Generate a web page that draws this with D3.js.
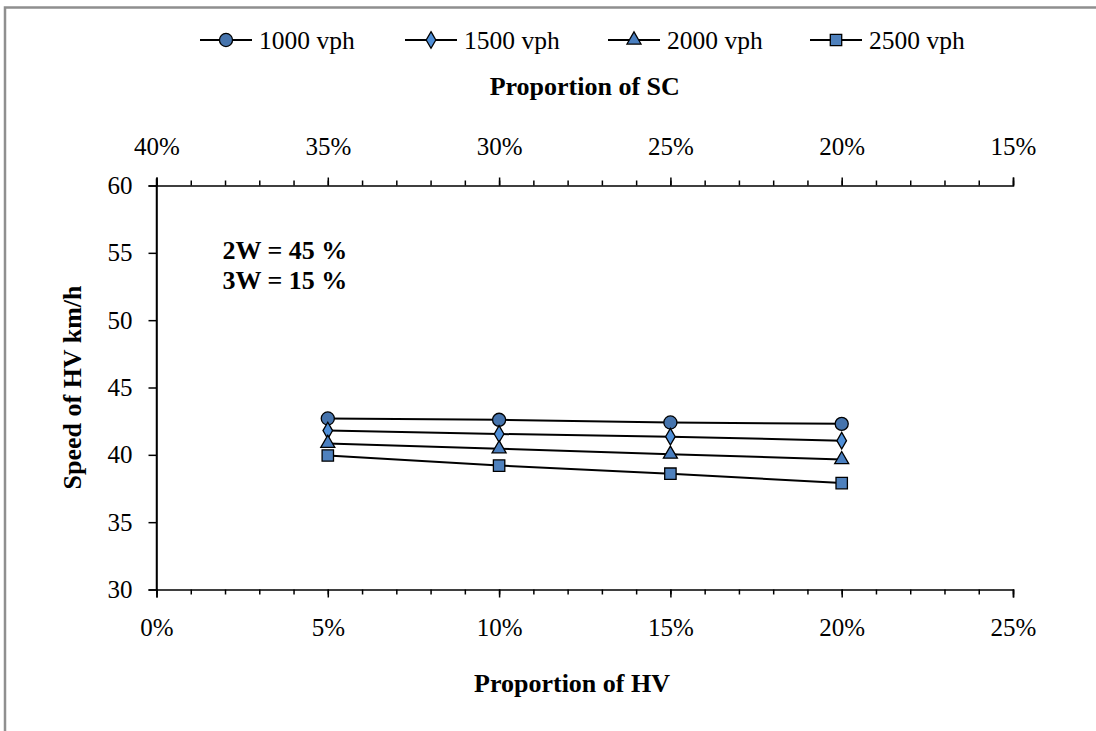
<!DOCTYPE html>
<html>
<head>
<meta charset="utf-8">
<script src="https://cdn.jsdelivr.net/npm/d3@7"></script>
<style>
  body { margin: 0; background: #fff; }
  svg text { font-family: "Liberation Serif", "Times New Roman", serif; fill: #000; }
  .axis-title { font-size: 26px; font-weight: bold; }
</style>
</head>
<body>
<div id="chart"></div>
<script>
// data
var hvShare = [0.05, 0.10, 0.15, 0.20];
var seriesNames = ["1000 vph", "1500 vph", "2000 vph", "2500 vph"];
var speed1000 = [42.7, 42.6, 42.4, 42.3];
var speed1500 = [41.8, 41.55, 41.35, 41.05];
var speed2000 = [40.85, 40.45, 40.05, 39.65];
var speed2500 = [39.95, 39.2, 38.6, 37.9];
var hvTicks = [0, 0.05, 0.10, 0.15, 0.20, 0.25];
var scTicks = [0.40, 0.35, 0.30, 0.25, 0.20, 0.15];
var speedTicks = [30, 35, 40, 45, 50, 55, 60];
var noteLines = ["2W = 45 %", "3W = 15 %"];

var allSpeeds = [speed1000, speed1500, speed2000, speed2500];
var markers = [d3.symbolCircle, d3.symbolDiamond, d3.symbolTriangle, d3.symbolSquare];
var markerSize = [135, 80, 85, 130];
var markerFill = ["#4674ad", "#4f8fd8", "#4a7fc0", "#4f81bd"];

var W = 1096, H = 731;
var margin = {top: 185.5, right: 83, bottom: 141.5, left: 156.5};
var width = W - margin.left - margin.right,
    height = H - margin.top - margin.bottom;

var svg = d3.select("#chart").append("svg")
  .attr("width", W)
  .attr("height", H);

// outer frame
svg.append("rect")
  .attr("x", 5).attr("y", 7.5)
  .attr("width", W + 20).attr("height", H + 20)
  .attr("fill", "none")
  .attr("stroke", "#8f8f8f")
  .attr("stroke-width", 2.5);

var g = svg.append("g")
  .attr("transform", "translate(" + margin.left + "," + margin.top + ")");

var x = d3.scaleLinear().domain([0, 0.25]).range([0, width]);
var x2 = d3.scaleLinear().domain([0.40, 0.15]).range([0, width]);
var y = d3.scaleLinear().domain([30, 60]).range([height, 0]);

var pct = d3.format(".0%");
var minorHV = d3.range(0, 0.2501, 0.01);
var minorSC = d3.range(0.15, 0.4001, 0.01);

// minor ticks, bottom and top
g.append("g")
  .attr("transform", "translate(0," + height + ")")
  .call(d3.axisBottom(x).tickValues(minorHV).tickSize(5).tickFormat(""))
  .call(function(s) { s.select(".domain").remove(); });
g.append("g")
  .call(d3.axisTop(x2).tickValues(minorSC).tickSize(5).tickFormat(""))
  .call(function(s) { s.select(".domain").remove(); });

// bottom axis
g.append("g")
  .attr("class", "axis")
  .attr("transform", "translate(0," + height + ")")
  .call(d3.axisBottom(x).tickValues(hvTicks).tickSize(8).tickPadding(21).tickFormat(pct));

// top axis
g.append("g")
  .attr("class", "axis")
  .call(d3.axisTop(x2).tickValues(scTicks).tickSize(8).tickPadding(23).tickFormat(pct));

// y axis
g.append("g")
  .attr("class", "axis")
  .call(d3.axisLeft(y).tickValues(speedTicks).tickSize(8).tickPadding(16));

g.selectAll(".axis")
  .attr("font-family", "Liberation Serif")
  .attr("font-size", 25);
g.selectAll(".domain").attr("stroke", "#000").attr("stroke-width", 1.5);
g.selectAll(".tick line").attr("stroke", "#000").attr("stroke-width", 1.5);
g.selectAll(".tick text")
  .style("font-family", "Liberation Serif")
  .style("font-size", "25px")
  .attr("fill", "#000");

// y axis line a bit past the top axis
g.append("line")
  .attr("x1", 0).attr("x2", 0)
  .attr("y1", -7).attr("y2", height)
  .attr("stroke", "#000").attr("stroke-width", 1.5);

// axis titles
svg.append("text")
  .attr("class", "axis-title")
  .attr("x", 572).attr("y", 692)
  .attr("text-anchor", "middle")
  .text("Proportion of HV");

svg.append("text")
  .attr("class", "axis-title")
  .attr("x", margin.left + width / 2).attr("y", 95)
  .attr("text-anchor", "middle")
  .text("Proportion of SC");

svg.append("text")
  .attr("class", "axis-title")
  .attr("transform", "translate(81," + (margin.top + height / 2) + ") rotate(-90)")
  .attr("text-anchor", "middle")
  .text("Speed of HV km/h");

// note
g.selectAll(".note")
  .data(noteLines)
  .enter().append("text")
  .attr("class", "axis-title")
  .attr("x", 66)
  .attr("y", function(d, i) { return 73 + i * 30; })
  .text(function(d) { return d; });

// series
var line = d3.line()
  .x(function(d, i) { return x(hvShare[i]); })
  .y(function(d) { return y(d); });

allSpeeds.forEach(function(vals, k) {
  g.append("path")
    .datum(vals)
    .attr("d", line)
    .attr("fill", "none")
    .attr("stroke", "#000")
    .attr("stroke-width", 2);

  g.selectAll(".m" + k)
    .data(vals)
    .enter().append("path")
    .attr("class", "m" + k)
    .attr("transform", function(d, i) { return "translate(" + x(hvShare[i]) + "," + y(d) + ")"; })
    .attr("d", d3.symbol().type(markers[k]).size(markerSize[k]))
    .attr("fill", markerFill[k])
    .attr("stroke", "#000")
    .attr("stroke-width", 1.3);
});

// legend
var legendX = [200, 405, 608, 810];
var legend = svg.selectAll(".legend")
  .data(seriesNames)
  .enter().append("g")
  .attr("transform", function(d, i) { return "translate(" + legendX[i] + ",40)"; });

legend.append("line")
  .attr("x1", 0).attr("x2", 52)
  .attr("stroke", "#000").attr("stroke-width", 2);

legend.append("path")
  .attr("transform", "translate(26,0)")
  .attr("d", function(d, i) { return d3.symbol().type(markers[i]).size(markerSize[i])(); })
  .attr("fill", function(d, i) { return markerFill[i]; })
  .attr("stroke", "#000")
  .attr("stroke-width", 1.3);

legend.append("text")
  .attr("x", 59).attr("y", 8.5)
  .style("font-size", "25.5px")
  .text(function(d) { return d; });
</script>
</body>
</html>
